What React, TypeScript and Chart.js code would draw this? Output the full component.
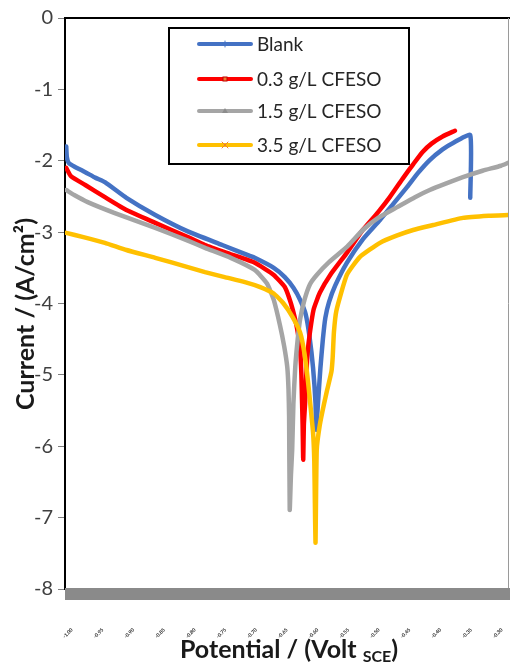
import React, { useEffect, useRef } from "react";
import { Chart, registerables } from "chart.js";

Chart.register(...registerables);

// ---- Data ----
const seriesNames = ["Blank", "0.3 g/L CFESO", "1.5 g/L CFESO", "3.5 g/L CFESO"];
const seriesColors = ["#4472C4", "#FF0000", "#A5A5A5", "#FFC000"];

const blankV = [-0.998, -0.997, -0.994, -0.985, -0.967, -0.95, -0.935, -0.9, -0.853, -0.8, -0.744, -0.7, -0.691, -0.66, -0.642, -0.628, -0.617, -0.608, -0.602, -0.596, -0.592, -0.591, -0.588, -0.584, -0.58, -0.576, -0.57, -0.56, -0.541, -0.515, -0.487, -0.465, -0.443, -0.425, -0.406, -0.385, -0.368, -0.34, -0.34];
const blankI = [-1.8, -1.95, -2.03, -2.08, -2.16, -2.24, -2.3, -2.52, -2.76, -2.99, -3.18, -3.33, -3.36, -3.5, -3.63, -3.78, -3.95, -4.15, -4.45, -4.9, -5.4, -5.77, -5.4, -4.9, -4.5, -4.2, -3.98, -3.75, -3.43, -3.1, -2.83, -2.6, -2.37, -2.17, -1.99, -1.84, -1.75, -1.64, -2.52];

const cfeso03V = [-0.998, -0.99, -0.967, -0.935, -0.9, -0.853, -0.8, -0.772, -0.73, -0.691, -0.66, -0.642, -0.635, -0.629, -0.622, -0.617, -0.615, -0.614, -0.613, -0.612, -0.611, -0.609, -0.607, -0.605, -0.601, -0.595, -0.585, -0.568, -0.54, -0.515, -0.49, -0.471, -0.45, -0.433, -0.418, -0.403, -0.385, -0.365];
const cfeso03I = [-2.1, -2.22, -2.34, -2.51, -2.69, -2.87, -3.07, -3.18, -3.31, -3.43, -3.6, -3.77, -3.92, -4.09, -4.35, -4.65, -5.0, -5.35, -5.7, -6.19, -5.7, -5.4, -5.0, -4.7, -4.4, -4.08, -3.85, -3.6, -3.28, -2.97, -2.72, -2.51, -2.25, -2.05, -1.88, -1.76, -1.66, -1.58];

const cfeso15V = [-0.998, -0.985, -0.963, -0.92, -0.853, -0.8, -0.772, -0.73, -0.691, -0.671, -0.66, -0.65, -0.643, -0.638, -0.636, -0.635, -0.634, -0.632, -0.63, -0.628, -0.625, -0.621, -0.617, -0.61, -0.601, -0.59, -0.57, -0.54, -0.515, -0.49, -0.459, -0.43, -0.406, -0.38, -0.352, -0.32, -0.29, -0.2785];
const cfeso15I = [-2.41, -2.48, -2.58, -2.73, -2.94, -3.12, -3.22, -3.36, -3.53, -3.72, -3.95, -4.3, -4.6, -4.89, -5.2, -5.59, -6.89, -6.4, -6.05, -5.4, -4.89, -4.5, -4.22, -3.95, -3.73, -3.6, -3.42, -3.2, -2.97, -2.8, -2.65, -2.51, -2.41, -2.32, -2.23, -2.14, -2.07, -2.03];

const cfeso35V = [-0.998, -0.97, -0.935, -0.9, -0.853, -0.8, -0.772, -0.74, -0.707, -0.682, -0.66, -0.645, -0.63, -0.617, -0.61, -0.604, -0.6, -0.596, -0.594, -0.593, -0.592, -0.59, -0.585, -0.578, -0.573, -0.566, -0.564, -0.562, -0.558, -0.541, -0.52, -0.487, -0.46, -0.433, -0.4, -0.352, -0.31, -0.2785];
const cfeso35I = [-3.01, -3.07, -3.15, -3.25, -3.36, -3.49, -3.56, -3.63, -3.7, -3.77, -3.86, -3.99, -4.18, -4.41, -4.7, -5.11, -5.45, -5.81, -6.2, -6.8, -7.35, -6.05, -5.7, -5.4, -5.21, -4.95, -4.75, -4.4, -4.1, -3.6, -3.35, -3.15, -3.05, -2.97, -2.9, -2.8, -2.77, -2.76];

const xTickValues = [-1.0, -0.95, -0.9, -0.85, -0.8, -0.75, -0.7, -0.65, -0.6, -0.55, -0.5, -0.45, -0.4, -0.35, -0.3];
const xMin = -1.0;
const xMax = -0.2785;
const yMin = -8;
const yMax = 0;

const FONT = "Lato, 'Open Sans', sans-serif";

const toPoints = (xs: number[], ys: number[]) => xs.map((x, i) => ({ x, y: ys[i] }));

function drawMarker(ctx: CanvasRenderingContext2D, i: number, x: number, y: number) {
  ctx.save();
  ctx.lineWidth = 1;
  if (i === 0) {
    ctx.strokeStyle = "#4472C4";
    ctx.beginPath();
    ctx.moveTo(x, y - 3);
    ctx.lineTo(x, y + 3);
    ctx.stroke();
  } else if (i === 1) {
    ctx.fillStyle = "#ED7D31";
    ctx.strokeStyle = "#C00000";
    ctx.fillRect(x - 2, y - 2, 4, 4);
    ctx.strokeRect(x - 2, y - 2, 4, 4);
  } else if (i === 2) {
    ctx.fillStyle = "#8c8c8c";
    ctx.beginPath();
    ctx.moveTo(x, y - 3);
    ctx.lineTo(x + 3, y + 2);
    ctx.lineTo(x - 3, y + 2);
    ctx.closePath();
    ctx.fill();
  } else {
    ctx.strokeStyle = "#ED7D31";
    ctx.beginPath();
    ctx.moveTo(x - 3, y - 3);
    ctx.lineTo(x + 3, y + 3);
    ctx.moveTo(x + 3, y - 3);
    ctx.lineTo(x - 3, y + 3);
    ctx.stroke();
  }
  ctx.restore();
}

const decorPlugin = {
  id: "decor",
  afterDraw(chart: any) {
    const ctx = chart.ctx as CanvasRenderingContext2D;
    const a = chart.chartArea;
    ctx.save();
    // top border
    ctx.strokeStyle = "#000";
    ctx.lineWidth = 2;
    ctx.beginPath();
    ctx.moveTo(a.left, a.top);
    ctx.lineTo(chart.width, a.top);
    ctx.stroke();
    // right border
    ctx.strokeStyle = "#9a9a9a";
    ctx.lineWidth = 1;
    ctx.beginPath();
    ctx.moveTo(a.right + 0.5, a.top);
    ctx.lineTo(a.right + 0.5, a.bottom);
    ctx.stroke();
    // bottom gray band
    ctx.fillStyle = "#8a8a8a";
    ctx.fillRect(a.left, a.bottom - 1, chart.width - a.left, 12);

    // legend
    const lx = 169, ly = 28, lw = 240, lh = 136;
    ctx.fillStyle = "#fff";
    ctx.fillRect(lx, ly, lw, lh);
    ctx.strokeStyle = "#000";
    ctx.lineWidth = 2;
    ctx.strokeRect(lx, ly, lw, lh);
    const rows = [44, 79, 111, 145];
    ctx.font = `19px ${FONT}`;
    ctx.textBaseline = "middle";
    ctx.textAlign = "left";
    seriesNames.forEach((name, i) => {
      const y = rows[i];
      ctx.strokeStyle = seriesColors[i];
      ctx.lineWidth = 4;
      ctx.lineCap = "round";
      ctx.beginPath();
      ctx.moveTo(199, y);
      ctx.lineTo(251, y);
      ctx.stroke();
      drawMarker(ctx, i, 225, y);
      ctx.fillStyle = "#262626";
      ctx.fillText(name, 257, y + 1);
    });

    // y axis title (overlapping the tick labels behind it, as in the reference)
    ctx.save();
    ctx.translate(26, 314);
    ctx.rotate(-Math.PI / 2);
    ctx.font = `bold 25px ${FONT}`;
    ctx.fillStyle = "#1a1a1a";
    ctx.textAlign = "center";
    ctx.textBaseline = "middle";
    ctx.fillText("Current / (A/cm²)", 0, 0);
    ctx.restore();

    // x axis title with subscript
    const big = `bold 25px ${FONT}`;
    const small = `bold 16px ${FONT}`;
    const p1 = "Potential / (Volt ";
    const p2 = "SCE";
    const p3 = ")";
    ctx.font = big;
    const w1 = ctx.measureText(p1).width;
    const w3 = ctx.measureText(p3).width;
    ctx.font = small;
    const w2 = ctx.measureText(p2).width;
    const total = w1 + w2 + w3;
    let x = 289 - total / 2;
    const base = 658;
    ctx.fillStyle = "#1a1a1a";
    ctx.textBaseline = "alphabetic";
    ctx.textAlign = "left";
    ctx.font = big;
    ctx.fillText(p1, x, base);
    x += w1;
    ctx.font = small;
    ctx.fillText(p2, x, base + 4);
    x += w2;
    ctx.font = big;
    ctx.fillText(p3, x, base);
    ctx.restore();
  },
};

export default function App() {
  const ref = useRef<HTMLCanvasElement | null>(null);
  useEffect(() => {
    if (!ref.current) return;
    const mk = (label: string, xs: number[], ys: number[], color: string, order: number) => ({
      label,
      data: toPoints(xs, ys),
      borderColor: color,
      backgroundColor: color,
      borderWidth: 4.5,
      pointRadius: 0,
      tension: 0.15,
      order,
      borderJoinStyle: "round" as const,
      borderCapStyle: "round" as const,
    });
    const chart = new Chart(ref.current, {
      type: "line",
      data: {
        datasets: [
          mk(seriesNames[0], blankV, blankI, seriesColors[0], 4),
          mk(seriesNames[1], cfeso03V, cfeso03I, seriesColors[1], 3),
          mk(seriesNames[2], cfeso15V, cfeso15I, seriesColors[2], 2),
          mk(seriesNames[3], cfeso35V, cfeso35I, seriesColors[3], 1),
        ],
      },
      options: {
        animation: false,
        responsive: false,
        devicePixelRatio: 1,
        layout: { padding: { top: 18, right: 2, left: 0, bottom: 0 } },
        plugins: { legend: { display: false }, tooltip: { enabled: false } },
        scales: {
          x: {
            type: "linear",
            min: xMin,
            max: xMax,
            afterBuildTicks: (s: any) => {
              s.ticks = xTickValues.map((v) => ({ value: v }));
            },
            afterFit: (s: any) => {
              s.height = 81;
              s.paddingLeft = 0;
              s.paddingRight = 0;
            },
            grid: { display: false },
            border: { display: false },
            ticks: {
              autoSkip: false,
              minRotation: 45,
              maxRotation: 45,
              padding: 30,
              labelOffset: 7,
              color: "#222",
              font: { size: 5, family: FONT, weight: "bold" },
              callback: (v: any) => Number(v).toFixed(2),
            },
          },
          y: {
            min: yMin,
            max: yMax,
            afterFit: (s: any) => {
              s.width = 65;
            },
            ticks: {
              stepSize: 1,
              padding: 5,
              color: "#404040",
              font: { size: 20, family: FONT },
            },
            grid: {
              drawOnChartArea: false,
              drawTicks: true,
              tickLength: 7,
              color: "#7f7f7f",
            },
            border: { color: "#000", width: 2 },
          },
        },
      },
      plugins: [decorPlugin],
    });
    return () => chart.destroy();
  }, []);
  return (
    <div style={{ position: "absolute", left: 0, top: 0, width: 510, height: 670, background: "#fff" }}>
      <canvas ref={ref} width={510} height={670} style={{ display: "block" }} />
    </div>
  );
}
